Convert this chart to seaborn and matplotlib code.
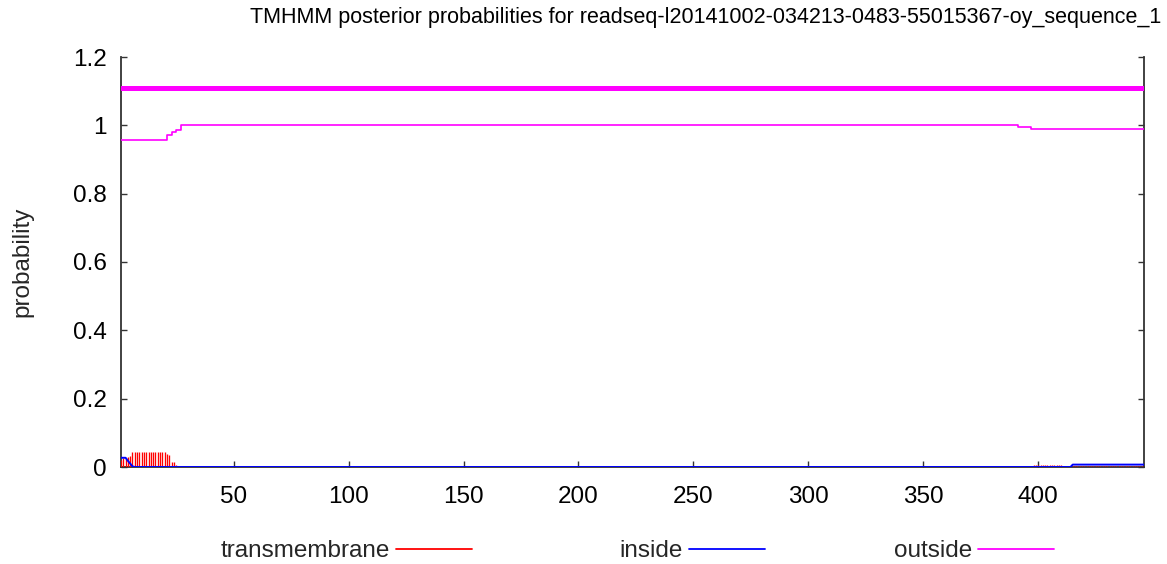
import matplotlib
matplotlib.use("Agg")
import matplotlib.pyplot as plt
from matplotlib.lines import Line2D
import seaborn as sns

# ---------------- data ----------------
title = "TMHMM posterior probabilities for readseq-l20141002-034213-0483-55015367-oy_sequence_1"
seq_start = 1
seq_end = 446

# transmembrane posterior (impulses)
tm_pos = list(range(1, 26)) + list(range(398, 413)) + list(range(415, 447))
tm_val = [0.020, 0.025, 0.027, 0.030, 0.033, 0.044, 0.045, 0.045, 0.045, 0.045,
          0.045, 0.045, 0.045, 0.045, 0.045, 0.045, 0.045, 0.045, 0.045, 0.044,
          0.038, 0.034, 0.015, 0.014, 0.005,
          0.006, 0.005, 0.005, 0.006, 0.005, 0.005, 0.005, 0.005, 0.005, 0.005,
          0.005, 0.005, 0.005, 0.004, 0.004,
          0.003, 0.003, 0.003, 0.003, 0.003, 0.003, 0.003, 0.003, 0.003, 0.003,
          0.003, 0.003, 0.003, 0.003, 0.003, 0.003, 0.003, 0.003, 0.003, 0.003,
          0.003, 0.003, 0.003, 0.003, 0.003, 0.003, 0.003, 0.003, 0.003, 0.003,
          0.003, 0.003]

# inside posterior
inside_pos = [1, 3, 4, 6, 7, 414, 415, 446]
inside_val = [0.027, 0.027, 0.018, 0.002, 0.0, 0.0, 0.007, 0.007]

# outside posterior (change points)
outside_pos = [1, 21, 23, 25, 27, 391, 397, 446]
outside_val = [0.956, 0.972, 0.980, 0.986, 1.000, 0.995, 0.990, 0.990]

# predicted topology bar (outside over whole sequence)
topo_pos = [1, 446]
topo_val = [1.11, 1.11]

x_ticks = [50, 100, 150, 200, 250, 300, 350, 400]
y_ticks = [0, 0.2, 0.4, 0.6, 0.8, 1.0, 1.2]
y_tick_labels = ["0", "0.2", "0.4", "0.6", "0.8", "1", "1.2"]
legend_labels = ["transmembrane", "inside", "outside"]

# ---------------- style ----------------
sns.set_theme(style="white")
plt.rcParams["font.family"] = ["Liberation Sans", "DejaVu Sans"]

RED = "#ff0000"
BLUE = "#0000ff"
MAG = "#ff00ff"
BORDER = "#333333"

W, H = 1167, 564
fig = plt.figure(figsize=(W / 100, H / 100), dpi=100)
ax = fig.add_axes([121 / W, 1 - 467 / H, 1023 / W, 410 / H])

ax.vlines(tm_pos, 0, tm_val, color=RED, linewidth=0.95, zorder=3)
sns.lineplot(x=inside_pos, y=inside_val, color=BLUE, linewidth=1.4, ax=ax,
             legend=False, zorder=4)
sns.lineplot(x=outside_pos, y=outside_val, color=MAG, linewidth=1.2, ax=ax,
             drawstyle="steps-post", legend=False, zorder=4)
sns.lineplot(x=topo_pos, y=topo_val, color=MAG, linewidth=3.6, ax=ax,
             legend=False, zorder=4)

ax.set_xlim(seq_start, seq_end)
ax.set_ylim(0, 1.2)
ax.set_xticks(x_ticks)
ax.set_xticklabels([str(t) for t in x_ticks])
ax.set_yticks(y_ticks)
ax.set_yticklabels(y_tick_labels)
ax.set_xlabel("")
ax.set_ylabel("probability", fontsize=17.5)
ax.yaxis.set_label_coords(-0.086, 0.5)

for side in ["left", "right", "bottom"]:
    ax.spines[side].set_visible(True)
    ax.spines[side].set_color(BORDER)
    ax.spines[side].set_linewidth(1.3)
ax.spines["top"].set_visible(False)

ax.tick_params(axis="both", which="major", direction="in", length=4,
               width=1.0, color=BORDER, labelsize=17.5, labelcolor="black")
ax.tick_params(axis="y", left=True, right=True, pad=10)
ax.tick_params(axis="x", bottom=True, top=False, pad=14)
ax.grid(False)

fig.text(250 / W, 1 - 17 / H, title, ha="left", va="center", fontsize=15.5,
         color="black")

# legend (below plot, text before the sample line)
handles = [Line2D([], [], color=RED, linewidth=1.3),
           Line2D([], [], color=BLUE, linewidth=1.3),
           Line2D([], [], color=MAG, linewidth=1.3)]
anchors_x = [472, 765, 1054]
fs_leg = 17.5
fpx = fs_leg * 100 / 72
legs = []
for h, lab, xr in zip(handles, legend_labels, anchors_x):
    leg = ax.legend([h], [lab], loc="center right",
                    bbox_to_anchor=(xr / W, 1 - 551 / H),
                    bbox_transform=fig.transFigure, frameon=False,
                    markerfirst=False, borderpad=0, borderaxespad=0,
                    handlelength=76 / fpx, handletextpad=6 / fpx,
                    fontsize=fs_leg)
    legs.append(leg)
for leg in legs[:-1]:
    ax.add_artist(leg)

fig.savefig("out.png", dpi=100)
